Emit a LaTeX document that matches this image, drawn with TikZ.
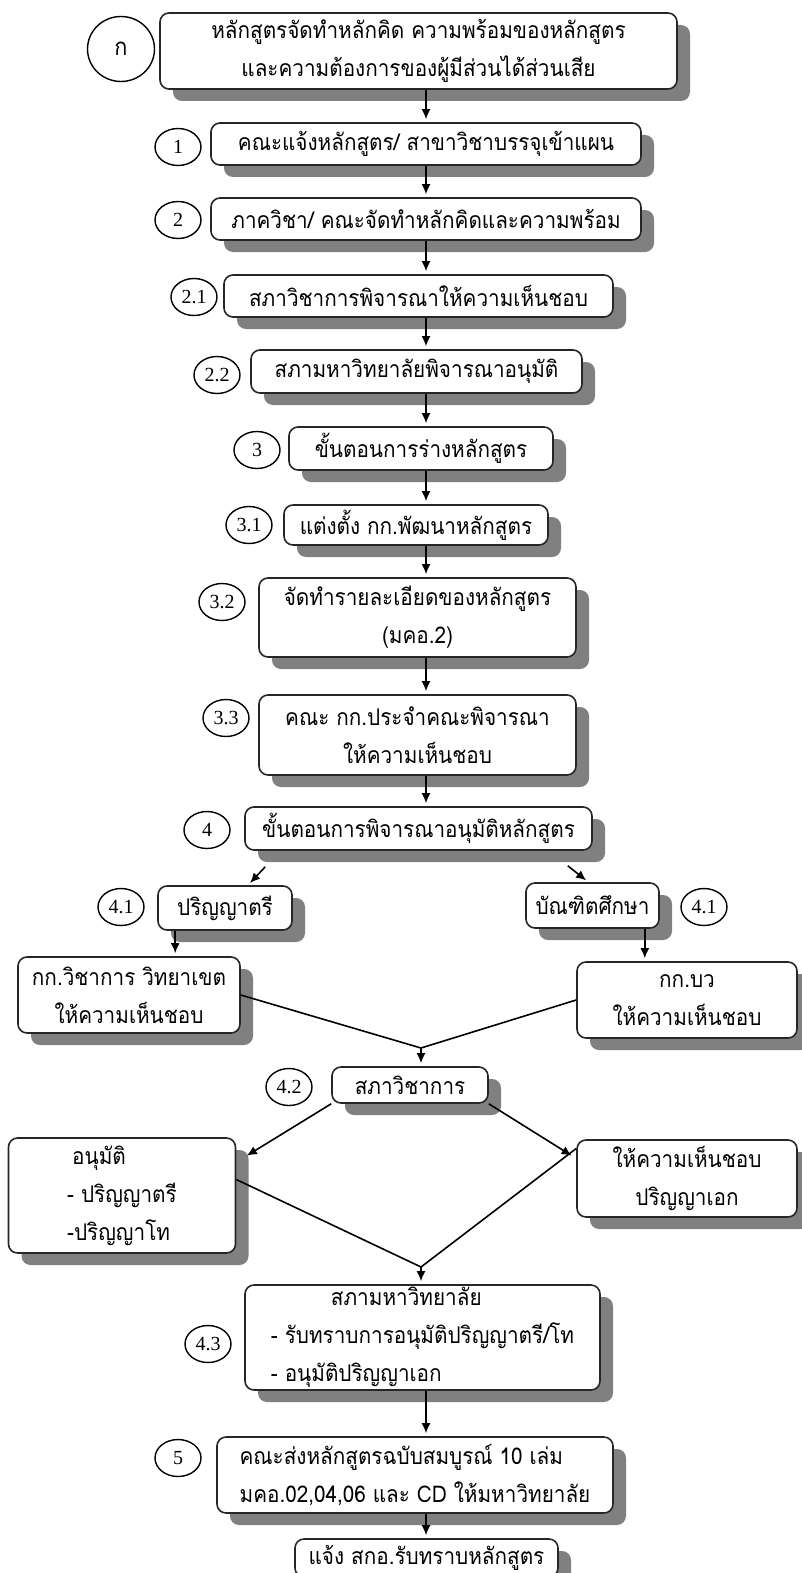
\documentclass[tikz,border=0pt]{standalone}
\usepackage{fontspec}
\setmainfont{Liberation Serif}
\newfontfamily\thaifont[Script=Thai, FakeStretch=0.9]{Loma}
\usetikzlibrary{arrows.meta,shadows,shapes.geometric}
\tikzset{
    boxnode/.style={
        rectangle,
        rounded corners=9pt,
        draw=black!85, % border
        fill=white,
        line width=1.6pt,
        drop shadow={shadow xshift=13pt, shadow yshift=-12pt, fill=black!50, opacity=1}, % grey shadow
        inner sep=0,
        align=center,
        font=\thaifont\fontsize{23}{38}\selectfont
    },
    numnode/.style={
        ellipse,
        draw=black,
        line width=1.4pt,
        minimum width=46pt,
        minimum height=37pt,
        inner sep=0,
        font=\fontsize{20}{20}\selectfont
    },
    flowarrow/.style={
        -{Latex[length=10pt,width=9pt]},
        line width=1.6pt,
        shorten >=3pt
    },
    joinline/.style={line width=1.6pt}
}

\begin{document}
\begin{tikzpicture}[x=1pt, y=-1pt]
    \useasboundingbox (0,0) rectangle (801,1573);
    \coordinate (col) at (426,0);

    % main column
    \node[boxnode, minimum width=517pt, minimum height=76pt] (top) at (418.5,51)
        {หลักสูตรจัดทำหลักคิด ความพร้อมของหลักสูตร\\และความต้องการของผู้มีส่วนได้ส่วนเสีย};
    \node[boxnode, minimum width=430pt, minimum height=42pt] (b1) at (426,144) {คณะแจ้งหลักสูตร/ สาขาวิชาบรรจุเข้าแผน};
    \node[boxnode, minimum width=430pt, minimum height=42pt] (b2) at (426,219) {ภาควิชา/ คณะจัดทำหลักคิดและความพร้อม};
    \node[boxnode, minimum width=389pt, minimum height=42pt] (b21) at (418.5,296) {สภาวิชาการพิจารณาให้ความเห็นชอบ};
    \node[boxnode, minimum width=331pt, minimum height=43pt] (b22) at (416.5,371.5) {สภามหาวิทยาลัยพิจารณาอนุมัติ};
    \node[boxnode, minimum width=264pt, minimum height=43pt] (b3) at (421,448.5) {ขั้นตอนการร่างหลักสูตร};
    \node[boxnode, minimum width=264pt, minimum height=40pt] (b31) at (416,525) {แต่งตั้ง กก.พัฒนาหลักสูตร};
    \node[boxnode, minimum width=317pt, minimum height=79pt] (b32) at (417.5,617.5) {จัดทำรายละเอียดของหลักสูตร\\(มคอ.2)};
    \node[boxnode, minimum width=317pt, minimum height=80pt] (b33) at (417.5,735) {คณะ กก.ประจำคณะพิจารณา\\ให้ความเห็นชอบ};
    \node[boxnode, minimum width=347pt, minimum height=43pt] (b4) at (418.5,828.5) {ขั้นตอนการพิจารณาอนุมัติหลักสูตร};

    % two branches
    \node[boxnode, minimum width=134pt, minimum height=44pt] (b41a) at (225,908) {ปริญญาตรี};
    \node[boxnode, minimum width=133pt, minimum height=45pt] (b41b) at (592.5,905.5) {บัณฑิตศึกษา};
    \node[boxnode, minimum width=222pt, minimum height=76pt] (bl) at (129,995) {กก.วิชาการ วิทยาเขต\\ให้ความเห็นชอบ};
    \node[boxnode, minimum width=220pt, minimum height=76pt] (br) at (687,1000) {กก.บว\\ให้ความเห็นชอบ};
    \node[boxnode, minimum width=156pt, minimum height=36pt] (b42) at (410,1085) {สภาวิชาการ};
    \node[boxnode, minimum width=227pt, minimum height=115pt, align=left] (b42a) at (122,1195.5)
        {\hspace*{5pt}อนุมัติ\\- ปริญญาตรี\\-ปริญญาโท};
    \node[boxnode, minimum width=220pt, minimum height=77pt] (b42b) at (687,1178.5) {ให้ความเห็นชอบ\\ปริญญาเอก};
    \node[boxnode, minimum width=355pt, minimum height=105pt, align=left] (b43) at (422.5,1337.5)
        {\hspace*{60pt}สภามหาวิทยาลัย\\- รับทราบการอนุมัติปริญญาตรี/โท\\- อนุมัติปริญญาเอก};
    \node[boxnode, minimum width=396pt, minimum height=76pt, align=left] (b5) at (415,1475)
        {คณะส่งหลักสูตรฉบับสมบูรณ์ 10 เล่ม\\มคอ.02,04,06 และ CD ให้มหาวิทยาลัย};
    \node[boxnode, minimum width=263pt, minimum height=38pt] (bend) at (426.5,1558) {แจ้ง สกอ.รับทราบหลักสูตร};

    % step numbers
    \node[numnode, minimum width=67pt, minimum height=65pt, font=\thaifont\fontsize{24}{24}\selectfont] (nka) at (121,49) {ก};
    \node[numnode] (n1) at (178,147) {1};
    \node[numnode] (n2) at (178,220) {2};
    \node[numnode] (n21) at (194,297) {2.1};
    \node[numnode] (n22) at (217,375) {2.2};
    \node[numnode] (n3) at (257,450) {3};
    \node[numnode] (n31) at (249,525) {3.1};
    \node[numnode] (n32) at (222,602) {3.2};
    \node[numnode] (n33) at (226,718) {3.3};
    \node[numnode] (n4) at (207,830) {4};
    \node[numnode] (n41a) at (121,907) {4.1};
    \node[numnode] (n41b) at (704,907) {4.1};
    \node[numnode] (n42) at (289,1087) {4.2};
    \node[numnode] (n43) at (208,1344) {4.3};
    \node[numnode] (n5) at (178,1458) {5};

    % arrows
    \draw[flowarrow] (top.south -| col) -- (b1.north -| col);
    \draw[flowarrow] (b1.south -| col) -- (b2.north -| col);
    \draw[flowarrow] (b2.south -| col) -- (b21.north -| col);
    \draw[flowarrow] (b21.south -| col) -- (b22.north -| col);
    \draw[flowarrow] (b22.south -| col) -- (b3.north -| col);
    \draw[flowarrow] (b3.south -| col) -- (b31.north -| col);
    \draw[flowarrow] (b31.south -| col) -- (b32.north -| col);
    \draw[flowarrow] (b32.south -| col) -- (b33.north -| col);
    \draw[flowarrow] (b33.south -| col) -- (b4.north -| col);
    \draw[flowarrow] ([shift={(21,16)}]b4.south west) -- ([xshift=23pt]b41a.north);
    \draw[flowarrow] ([shift={(-25,15)}]b4.south east) -- ([xshift=-4pt]b41b.north);
    \draw[flowarrow] ([xshift=18pt]b41a.south west) -- ([xshift=18pt]b41a.south west |- bl.north);
    \draw[flowarrow] ([xshift=-15pt]b41b.south east) -- ([xshift=-15pt]b41b.south east |- br.north);

    \coordinate (m1) at (421,1048);
    \draw[joinline] (bl.east) -- (m1) -- (br.west);
    \draw[flowarrow] (m1) -- (m1 |- b42.north);
    \draw[flowarrow] (b42.south west) -- ([shift={(8,20)}]b42a.north east);
    \draw[flowarrow] (b42.south east) -- ([shift={(-2,18)}]b42b.north west);

    \coordinate (m2) at (421,1267);
    \draw[joinline] ([yshift=16pt]b42a.east) -- (m2) -- ([yshift=30pt]b42b.west);
    \draw[flowarrow] (m2) -- (m2 |- b43.north);
    \draw[flowarrow] (b43.south -| col) -- (b5.north -| col);
    \draw[flowarrow] (b5.south -| col) -- (bend.north -| col);
\end{tikzpicture}
\end{document}
